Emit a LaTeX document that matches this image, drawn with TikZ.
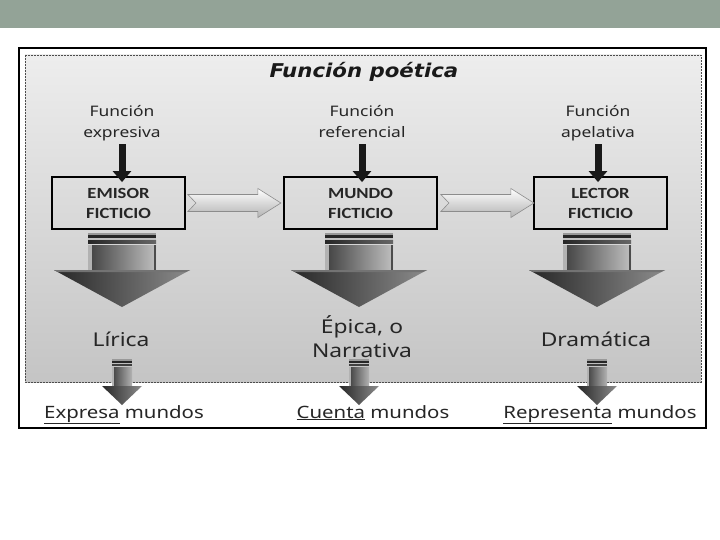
\documentclass[tikz,border=0pt]{standalone}
\usepackage{fontspec}
\setmainfont{Noto Sans}
\newfontfamily\lblfont{Noto Sans}[FakeStretch=1.2]
\newfontfamily\boxfont{Carlito}[FakeStretch=1.2]
\newfontfamily\titlefont{DejaVu Sans}[FakeStretch=1.12]
\usetikzlibrary{arrows.meta}
\definecolor{barcol}{RGB}{147,163,151}
\tikzset{
  fbox/.style={draw=black, line width=1.8pt, minimum height=52pt, align=center, inner sep=0pt,
    font=\boxfont\bfseries\fontsize{15.5}{20}\selectfont, text=black!85},
  toplbl/.style={align=center, inner sep=1pt, font=\lblfont\fontsize{14.5}{21}\selectfont, text=black!85},
  midlbl/.style={align=center, inner sep=0pt, font=\lblfont\fontsize{19}{24}\selectfont, text=black!85},
  botlbl/.style={inner sep=0pt, anchor=base, font=\lblfont\fontsize{17}{20}\selectfont, text=black!85},
  blkarrow/.style={line width=7pt, -{Triangle[length=11pt,width=18pt]}, black!90},
  hollow/.style={draw=black!45, line width=0.6pt, top color=white, bottom color=black!30},
  bigdown/.pic={
    \fill[black!40] (-34,0) rectangle (34,2);
    \fill[black!85] (-34,2) rectangle (34,5);
    \fill[black!25] (-34,5) rectangle (34,7);
    \shade[left color=black!85, right color=black!60] (-34,7) rectangle (34,10);
    \shade[left color=black!75, right color=black!25] (-34,12) rectangle (34,37);
    \fill[black!30] (-34,12) rectangle (-30,37);
    \fill[black!70] (32,12) rectangle (34,37);
    \shade[left color=black!85, right color=black!45] (-68,37) -- (68,37) -- (0,74) -- cycle;
    \fill[black!55] (-68,37) -- (68,37) -- (64,39) -- (-64,39) -- cycle;
  },
  smalldown/.pic={
    \fill[black!40] (-10,0) rectangle (10,1.5);
    \fill[black!85] (-10,1.5) rectangle (10,3.5);
    \fill[black!25] (-10,3.5) rectangle (10,5);
    \fill[black!75] (-10,5) rectangle (10,7);
    \shade[left color=black!75, right color=black!30] (-10,8) rectangle (10,27);
    \fill[black!30] (-10,8) rectangle (-8,27);
    \shade[left color=black!85, right color=black!45] (-20,27) -- (20,27) -- (0,46) -- cycle;
  }
}
\begin{document}
\begin{tikzpicture}[x=1pt,y=-1pt]
\useasboundingbox (0,0) rectangle (720,540);
\fill[white] (0,0) rectangle (720,540);
\fill[barcol] (0,0) rectangle (720,28);
% panel
\shade[top color=black!7, bottom color=black!23] (25,55) rectangle (701,382);
\draw[black!70, line width=0.6pt, dash pattern=on 2pt off 1pt] (25,55) rectangle (701,382);
\draw[black, line width=1.2pt] (19,48) rectangle (706,428);

% title
\node[anchor=base, inner sep=0pt, font=\titlefont\bfseries\itshape\fontsize{19}{24}\selectfont, text=black!90] (title) at (364,78) {Función poética};

% top labels
\node[toplbl] (fe) at (122,123) {\strut Función\\expresiva\strut};
\node[toplbl] (fr) at (362,123) {\strut Función\\referencial\strut};
\node[toplbl] (fa) at (598,123) {\strut Función\\apelativa\strut};

% boxes
\node[fbox, minimum width=133pt] (emisor) at (118.5,203) {EMISOR\\FICTICIO};
\node[fbox, minimum width=153pt] (mundo) at (360.5,203) {MUNDO\\FICTICIO};
\node[fbox, minimum width=133pt] (lector) at (600.5,203) {LECTOR\\FICTICIO};

% black arrows
\draw[blkarrow] ([yshift=1pt]fe.south) -- ([yshift=-6pt]fe.south |- emisor.north);
\draw[blkarrow] ([yshift=1pt]fr.south) -- ([yshift=-6pt]fr.south |- mundo.north);
\draw[blkarrow] ([yshift=1pt]fa.south) -- ([yshift=-6pt]fa.south |- lector.north);

% hollow arrows
\draw[hollow] ([xshift=2pt]emisor.east) ++(0,-8.5) -- ++(70,0) -- ++(0,-6) -- ++(23,14.5) -- ++(-23,14.5) -- ++(0,-6) -- ++(-70,0) -- ++(8,-8.5) -- cycle;
\draw[hollow] ([xshift=3pt]mundo.east) ++(0,-8.5) -- ++(70,0) -- ++(0,-6) -- ++(23,14.5) -- ++(-23,14.5) -- ++(0,-6) -- ++(-70,0) -- ++(8,-8.5) -- cycle;

% genre labels
\node[midlbl, anchor=base] (lirica) at (121,346) {Lírica};
\node[midlbl] (epica) at (362,340) {\strut Épica, o\\Narrativa\strut};
\node[midlbl, anchor=base] (drama) at (596,346) {Dramática};

% big arrows
\path (122,233) pic {bigdown};
\path (359,233) pic {bigdown};
\path (597,233) pic {bigdown};

% bottom labels
\node[botlbl] (expresa) at (124,418) {\underline{Expresa} mundos};
\node[botlbl] (cuenta) at (373,418) {\underline{Cuenta} mundos};
\node[botlbl] (representa) at (600,418) {\underline{Representa} mundos};

% small arrows
\path (122,359) pic {smalldown};
\path (359,359) pic {smalldown};
\path (597,359) pic {smalldown};
\end{tikzpicture}
\end{document}
